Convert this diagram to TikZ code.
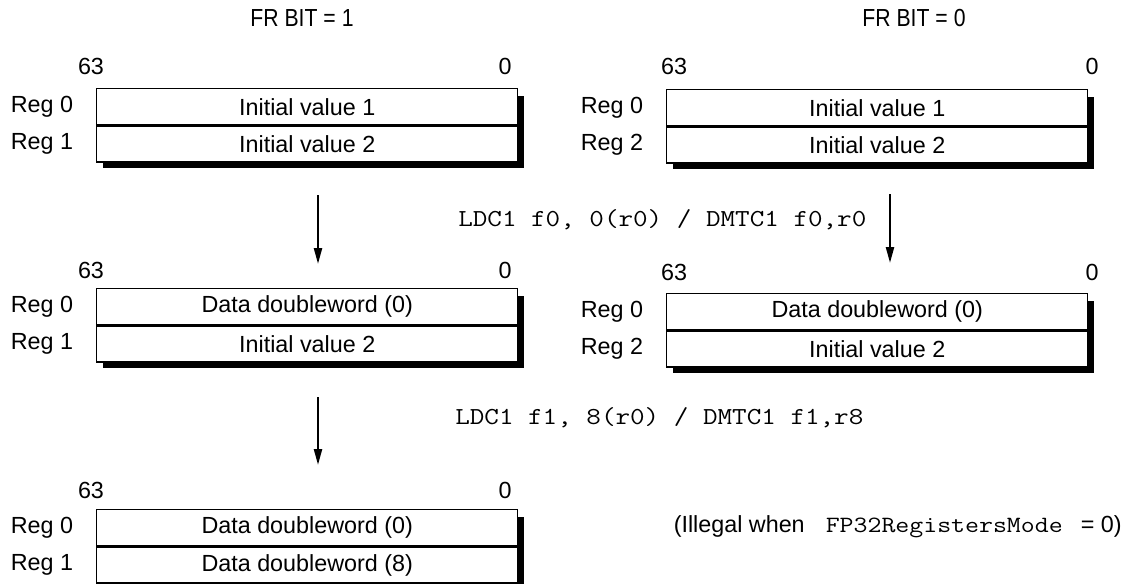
\documentclass[tikz,border=0pt]{standalone}
\usepackage{fontspec}
\setmainfont{Liberation Sans}
\newfontfamily\narrowsans[FakeStretch=0.86]{Liberation Sans}
\newfontfamily\courfont[FakeStretch=1.16]{Latin Modern Mono}
\usetikzlibrary{arrows.meta}
\newcommand\regblock[7]{%
  \fill[black] (#2+7,#3+8) rectangle (#2+428,#3+80);
  \node[regbox] (#1a) at (#2,#3) {#6};
  \node[regbox] (#1b) at (#1a.south west) {#7};
  \node[lbl, anchor=east] (#1la) at ([xshift=-17pt]#1a.west) {#4};
  \node[lbl, anchor=east] (#1lb) at ([xshift=-17pt]#1b.west) {#5};
}
\begin{document}
\begin{tikzpicture}[x=0.75pt,y=-0.75pt,
  lbl/.style={font=\fontsize{17.5}{20}\selectfont, inner sep=0pt},
  head/.style={font=\narrowsans\fontsize{18.5}{20}\selectfont, inner sep=0pt},
  code/.style={font=\courfont\fontsize{18.3}{20}\selectfont, inner sep=0pt},
  regbox/.style={draw=black, line width=1.1pt, fill=white, minimum width=315.75pt,
    minimum height=27pt, inner sep=0pt, anchor=north west,
    font=\fontsize{17.5}{20}\selectfont},
  flow/.style={-{Triangle[length=12pt,width=6pt]}, line width=1.7pt}
]
\useasboundingbox (0,0) rectangle (1125,583);

% headers
\node[head] (hl) at (302,18) {FR BIT = 1};
\node[head] (hr) at (914,18) {FR BIT = 0};

% row 1
\regblock{L1}{96}{88}{Reg 0}{Reg 1}{Initial value 1}{Initial value 2}
\regblock{R1}{666}{89}{Reg 0}{Reg 2}{Initial value 1}{Initial value 2}
\node[lbl] (L1hi) at (91,66) {63};
\node[lbl] (L1lo) at (505,66) {0};
\node[lbl] (R1hi) at (674,66) {63};
\node[lbl] (R1lo) at (1092,66) {0};

% transition 1
\coordinate (a1s) at (318,195);
\coordinate (a1e) at (318,264);
\coordinate (a2s) at (890,194);
\coordinate (a2e) at (890,263);
\draw[flow] (a1s) -- (a1e);
\draw[flow] (a2s) -- (a2e);
\node[code, anchor=west] (t1) at (458,220) {LDC1 f0, 0(r0) / DMTC1 f0,r0};

% row 2
\regblock{L2}{96}{288}{Reg 0}{Reg 1}{Data doubleword (0)}{Initial value 2}
\regblock{R2}{666}{293}{Reg 0}{Reg 2}{Data doubleword (0)}{Initial value 2}
\node[lbl] (L2hi) at (91,270) {63};
\node[lbl] (L2lo) at (505,270) {0};
\node[lbl] (R2hi) at (674,272) {63};
\node[lbl] (R2lo) at (1092,272) {0};

% transition 2
\coordinate (a3s) at (318,397);
\coordinate (a3e) at (318,465);
\draw[flow] (a3s) -- (a3e);
\node[code, anchor=west] (t2) at (455,418) {LDC1 f1, 8(r0) / DMTC1 f1,r8};

% row 3
\regblock{L3}{96}{509}{Reg 0}{Reg 1}{Data doubleword (0)}{Data doubleword (8)}
\node[lbl] (L3hi) at (91,490) {63};
\node[lbl] (L3lo) at (505,490) {0};

\node[lbl, anchor=east] (note) at (1122,527)
  {(Illegal when\hspace{0.9em}{\courfont\fontsize{17.5}{20}\selectfont FP32RegistersMode}\hspace{0.5em} = 0)};
\end{tikzpicture}
\end{document}
